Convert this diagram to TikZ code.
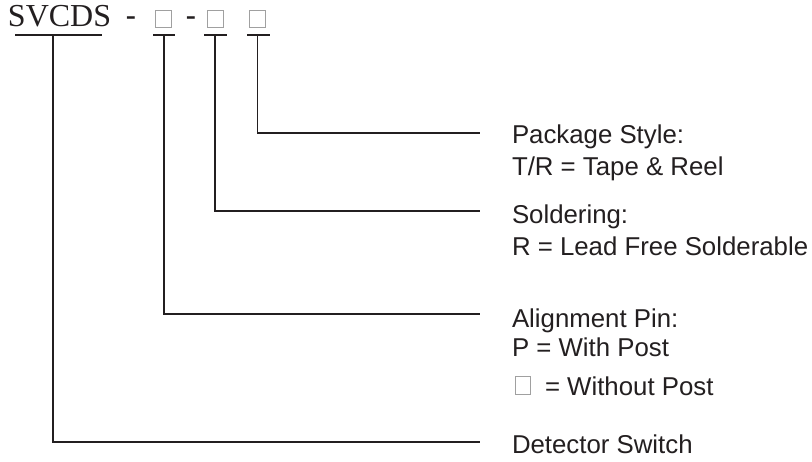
\documentclass[tikz,border=0pt]{standalone}
\usepackage{fontspec}
\setmainfont{Liberation Sans}
\newfontfamily\titlefont{Liberation Serif}
\definecolor{ink}{HTML}{231F20}
\definecolor{boxgray}{HTML}{A0A0A0}
\tikzset{
  lbl/.style={anchor=base west, inner sep=0pt, outer sep=0pt, text=ink, font=\fontsize{25.8}{30}\selectfont},
  ttl/.style={anchor=base west, inner sep=0pt, outer sep=0pt, text=ink, font=\titlefont\fontsize{32}{36}\selectfont},
  dsh/.style={anchor=base west, inner sep=0pt, outer sep=0pt, text=ink, font=\fontsize{32}{36}\selectfont},
  ubar/.style={draw=ink, line width=2pt},
  lead/.style={draw=ink, line width=1.1pt},
  emptybox/.style={draw=boxgray, line width=0.9pt}
}
\begin{document}
\begin{tikzpicture}[x=1pt,y=-1pt]
\useasboundingbox[fill=white] (0,0) rectangle (812,461);
% title
\node[ttl] (svcds) at (8,26) {SVCDS};
\node[dsh] (dashA) at (125.7,26) {-};
\node[dsh] (dashB) at (185.7,26) {-};
\draw[emptybox] (155,10) rectangle (171,27);
\draw[emptybox] (207.5,10) rectangle (223.5,27);
\draw[emptybox] (249.5,10) rectangle (265.5,27);
% underlines
\coordinate (u0a) at (15,34.5);  \coordinate (u0b) at (102,34.5);
\coordinate (u1a) at (153,34.5); \coordinate (u1b) at (175,34.5);
\coordinate (u2a) at (204,34.5); \coordinate (u2b) at (227,34.5);
\coordinate (u3a) at (247,34.5); \coordinate (u3b) at (270,34.5);
\draw[ubar] (u0a) -- (u0b);
\draw[ubar] (u1a) -- (u1b);
\draw[ubar] (u2a) -- (u2b);
\draw[ubar] (u3a) -- (u3b);
% leader start and end points
\coordinate (t0) at (53,34.5);
\coordinate (t1) at (164,34.5);
\coordinate (t2) at (215,34.5);
\coordinate (t3) at (257.5,34.5);
\coordinate (e3) at (480,133);
\coordinate (e2) at (480,211);
\coordinate (e1) at (480,314);
\coordinate (e0) at (480,442);
\draw[lead] (t3) |- (e3);
\draw[lead] (t2) |- (e2);
\draw[lead] (t1) |- (e1);
\draw[lead] (t0) |- (e0);
% labels
\node[lbl] (pk1) at (512,143.5) {Package Style:};
\node[lbl] (pk2) at (512,175.5) {T/R = Tape \& Reel};
\node[lbl] (so1) at (512,223.5) {Soldering:};
\node[lbl] (so2) at (512,255) {R = Lead Free Solderable};
\node[lbl] (al1) at (512,327) {Alignment Pin:};
\node[lbl] (al2) at (512,356) {P = With Post};
\draw[emptybox] (515.5,376.5) rectangle (530.5,394.5);
\node[lbl] (al3) at (545,395) {= Without Post};
\node[lbl] (de1) at (512,453) {Detector Switch};
\end{tikzpicture}
\end{document}
